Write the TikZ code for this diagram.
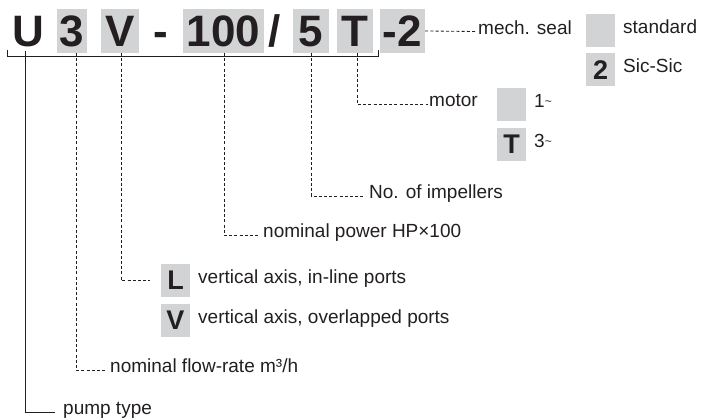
\documentclass[tikz,border=0pt]{standalone}
\usepackage{fontspec}
\setmainfont{Liberation Sans}
\definecolor{ink}{RGB}{35,31,32}
\definecolor{boxgray}{RGB}{209,211,212}
\newcommand{\smtilde}{\raisebox{1.5pt}{\fontsize{12}{12}\selectfont\textasciitilde}}
\begin{document}
\begin{tikzpicture}[x=1pt,y=-1pt,
  font=\fontsize{19}{22}\selectfont,
  big/.style={font=\fontsize{44}{48}\selectfont\bfseries, inner sep=0pt, text height=38pt, text depth=6pt, anchor=base, text=ink},
  bigbox/.style={big, fill=boxgray},
  lbl/.style={inner sep=0pt, text height=1ex, text depth=0pt, anchor=west, text=ink},
  smallbox/.style={fill=boxgray, minimum width=29pt, minimum height=33pt, inner sep=0pt, font=\fontsize{27}{30}\selectfont\bfseries, text=ink},
  dashline/.style={draw=ink, line width=0.85pt, dash pattern=on 3pt off 2.2pt},
  solidline/.style={draw=ink, line width=1pt}
]
\useasboundingbox (0,0) rectangle (717,419);

% code row
\node[big] (U) at (28,47) {U};
\node[bigbox, minimum width=30pt] (b3) at (72,47) {3};
\node[bigbox, minimum width=38pt] (bV) at (120,47) {V};
\node[big] (hy) at (160.5,47) {-};
\node[bigbox, minimum width=81pt] (b100) at (223.5,47) {100};
\node[big] (sl) at (275,47) {/};
\node[bigbox, minimum width=36pt] (b5) at (311,47) {5};
\node[bigbox, minimum width=36pt] (bT) at (355,47) {T};
\node[bigbox, minimum width=45pt] (b2) at (402.5,47) {-2};

% bracket
\coordinate (brL) at (7,50);
\coordinate (brR) at (378,50);
\draw[solidline] (brL) -- ++(0,7) -| (brR);

% connector starts
\coordinate (cU) at (25,51);
\coordinate (c3) at (76,53);
\coordinate (cV) at (121,53);
\coordinate (c100) at (224,53);
\coordinate (c5) at (311,53);
\coordinate (cT) at (357,53);

% labels
\node[lbl] (pump) at (63,412) {pump type};
\node[lbl] (flow) at (110,370) {nominal flow-rate m³/h};
\node[smallbox] (Lbox) at (175.5,280.5) {L};
\node[lbl] (Ltxt) at (198,280.5) {vertical axis, in-line ports};
\node[smallbox] (Vbox) at (175.5,320.5) {V};
\node[lbl] (Vtxt) at (198,320.5) {vertical axis, overlapped ports};
\node[lbl] (power) at (263,235) {nominal power HP×100};
\node[lbl] (imp) at (369,196) {No. of impellers};
\node[lbl] (motor) at (429,104) {motor};
\node[smallbox] (m1) at (511.5,104.5) {};
\node[lbl] (m1t) at (534,104.5) {1\smtilde};
\node[smallbox] (m3) at (511.5,144.5) {T};
\node[lbl] (m3t) at (534,144.5) {3\smtilde};
\node[lbl] (seal) at (478,31.5) {mech. seal};
\node[smallbox] (sstd) at (600.5,30.5) {};
\node[lbl] (sstdt) at (623,30.5) {standard};
\node[smallbox] (ssic) at (600.5,70) {2};
\node[lbl] (ssict) at (623,70) {Sic-Sic};

% connectors
\draw[solidline] (cU) |- ([xshift=-8pt]pump.west);
\draw[dashline] (c3) |- ([xshift=-5pt]flow.west);
\draw[dashline] (cV) |- ([xshift=-11pt]Lbox.west);
\draw[dashline] (c100) |- ([xshift=-5pt]power.west);
\draw[dashline] (c5) |- ([xshift=-4pt]imp.west);
\draw[dashline] (cT) |- ([xshift=-1pt]motor.west);
\draw[dashline] (b2.east) -- ([xshift=-3pt]seal.west);
\end{tikzpicture}
\end{document}
